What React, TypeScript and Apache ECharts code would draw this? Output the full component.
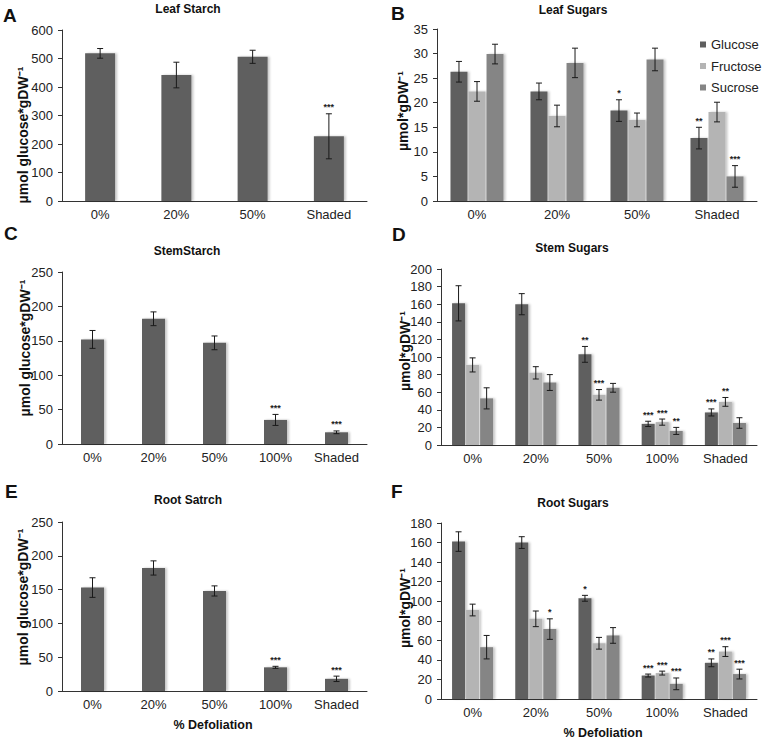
import React, { useEffect, useRef } from 'react';
import * as echarts from 'echarts';

const FONT = '"Liberation Sans", Arial, Helvetica, sans-serif';

// categories
const cats4 = ['0%', '20%', '50%', 'Shaded'];
const cats5 = ['0%', '20%', '50%', '100%', 'Shaded'];
const sugarNames = ['Glucose', 'Fructose', 'Sucrose'];
const sugarColors = ['#5f5f5f', '#b4b4b4', '#858585'];

// A: Leaf Starch
const leafStarch = [518, 442, 506, 227];
const leafStarchErr = [17, 45, 23, 79];
const leafStarchSig = ['', '', '', '***'];

// B: Leaf Sugars
const leafGlucose = [26.3, 22.3, 18.4, 12.8];
const leafGlucoseErr = [2.1, 1.7, 2.2, 2.2];
const leafGlucoseSig = ['', '', '*', '**'];
const leafFructose = [22.3, 17.3, 16.5, 18.1];
const leafFructoseErr = [2.0, 2.2, 1.4, 2.0];
const leafFructoseSig = ['', '', '', ''];
const leafSucrose = [29.9, 28.1, 28.8, 5.0];
const leafSucroseErr = [2.0, 3.0, 2.3, 2.2];
const leafSucroseSig = ['', '', '', '***'];

// C: Stem Starch
const stemStarch = [152, 182, 147, 35, 17];
const stemStarchErr = [13, 10, 10, 8, 2];
const stemStarchSig = ['', '', '', '***', '***'];

// D: Stem Sugars
const stemGlucose = [161, 160, 103, 24, 37];
const stemGlucoseErr = [20, 12, 9, 3, 4];
const stemGlucoseSig = ['', '', '**', '***', '***'];
const stemFructose = [91, 82, 57, 26, 49];
const stemFructoseErr = [8, 7, 6, 3.5, 5];
const stemFructoseSig = ['', '', '***', '***', '**'];
const stemSucrose = [53, 71, 65, 16, 25];
const stemSucroseErr = [12, 9, 5, 4, 6];
const stemSucroseSig = ['', '', '', '**', ''];

// E: Root Starch
const rootStarch = [153, 182, 148, 35, 18];
const rootStarchErr = [14.5, 10.5, 7.5, 1.5, 4];
const rootStarchSig = ['', '', '', '***', '***'];

// F: Root Sugars
const rootGlucose = [161, 160, 103, 24, 37];
const rootGlucoseErr = [10, 6, 3, 1.5, 4];
const rootGlucoseSig = ['', '', '*', '***', '**'];
const rootFructose = [91, 82, 57, 26.5, 48.5];
const rootFructoseErr = [6, 8, 6, 2, 5];
const rootFructoseSig = ['', '', '', '***', '***'];
const rootSucrose = [53, 71.5, 65, 15.5, 25.5];
const rootSucroseErr = [12, 10.5, 8, 6, 5];
const rootSucroseSig = ['', '*', '', '***', '***'];

// y axis settings
const yMax = [600, 35, 250, 200, 250, 180];
const yStep = [100, 5, 50, 20, 50, 20];

const grids = [
  { left: 62, top: 30, width: 305, height: 171 },
  { left: 437, top: 29, width: 320, height: 172 },
  { left: 62, top: 272, width: 305, height: 172 },
  { left: 441, top: 269, width: 316, height: 176 },
  { left: 62, top: 522, width: 305, height: 169 },
  { left: 441, top: 523, width: 316, height: 176 },
];

function xAx(gi: number, data: string[]) {
  return {
    type: 'category',
    gridIndex: gi,
    data,
    axisLine: { lineStyle: { color: '#333', width: 1 } },
    axisTick: { length: 4, lineStyle: { color: '#333' } },
    axisLabel: { fontSize: 13, color: '#222', margin: 7, fontFamily: FONT, interval: 0 },
  };
}

function yAx(gi: number) {
  return {
    type: 'value',
    gridIndex: gi,
    min: 0,
    max: yMax[gi],
    interval: yStep[gi],
    axisLine: { show: true, lineStyle: { color: '#333', width: 1 } },
    axisTick: { show: true, length: 4, lineStyle: { color: '#333' } },
    splitLine: { show: false },
    axisLabel: { fontSize: 13, color: '#222', margin: 9, fontFamily: FONT },
  };
}

function bars(name: string, vals: number[], color: string, gi: number, width: number, gap: string) {
  return {
    type: 'bar',
    name,
    xAxisIndex: gi,
    yAxisIndex: gi,
    data: vals,
    barWidth: width,
    barGap: gap,
    z: 2,
    itemStyle: {
      color,
      shadowColor: 'rgba(0,0,0,0.22)',
      shadowBlur: 2,
      shadowOffsetX: 2,
      shadowOffsetY: 0,
    },
  };
}

function errs(vals: number[], err: number[], sig: string[], gi: number, offset: number) {
  return {
    type: 'custom',
    xAxisIndex: gi,
    yAxisIndex: gi,
    silent: true,
    z: 5,
    data: vals.map((v, i) => [i, v, err[i]]),
    renderItem: (params: any, api: any) => {
      const x = api.value(0);
      const v = api.value(1);
      const e = api.value(2);
      const top = api.coord([x, v + e]);
      const bot = api.coord([x, v - e]);
      const cx = top[0] + offset;
      const cap = 3;
      const ls = { stroke: '#1a1a1a', lineWidth: 1 };
      const children: any[] = [
        { type: 'line', shape: { x1: cx, y1: top[1], x2: cx, y2: bot[1] }, style: ls },
        { type: 'line', shape: { x1: cx - cap, y1: top[1], x2: cx + cap, y2: top[1] }, style: ls },
        { type: 'line', shape: { x1: cx - cap, y1: bot[1], x2: cx + cap, y2: bot[1] }, style: ls },
      ];
      const s = sig[params.dataIndex];
      if (s) {
        children.push({
          type: 'text',
          style: {
            text: s,
            x: cx,
            y: top[1] - 2,
            align: 'center',
            verticalAlign: 'bottom',
            textAlign: 'center',
            textVerticalAlign: 'bottom',
            font: `bold 9px ${FONT}`,
            fill: '#222',
          },
        });
      }
      return { type: 'group', children };
    },
  };
}

function group3(
  gi: number,
  vals: number[][],
  errsArr: number[][],
  sigs: string[][],
  width: number,
  gapFrac: number
) {
  const out: any[] = [];
  for (let k = 0; k < 3; k++) {
    out.push(bars(sugarNames[k], vals[k], sugarColors[k], gi, width, `${gapFrac * 100}%`));
  }
  for (let k = 0; k < 3; k++) {
    out.push(errs(vals[k], errsArr[k], sigs[k], gi, (k - 1) * width * (1 + gapFrac)));
  }
  return out;
}

function txt(text: string, x: number, y: number, font: string, rotate = 0, align = 'center') {
  return {
    type: 'text',
    x,
    y,
    rotation: rotate,
    silent: true,
    style: {
      text,
      font,
      fill: '#111',
      align,
      verticalAlign: 'middle',
      textAlign: align,
      textVerticalAlign: 'middle',
    },
  };
}

const letterFont = `bold 19px ${FONT}`;
const titleFont = `bold 12px ${FONT}`;
const nameFont = `bold 14px ${FONT}`;
const xNameFont = `bold 12.5px ${FONT}`;
const yNameStarch = 'µmol glucose*gDW⁻¹';
const yNameSugar = 'µmol*gDW⁻¹';

const option: any = {
  animation: false,
  backgroundColor: '#fff',
  textStyle: { fontFamily: FONT },
  grid: grids,
  xAxis: [xAx(0, cats4), xAx(1, cats4), xAx(2, cats5), xAx(3, cats5), xAx(4, cats5), xAx(5, cats5)],
  yAxis: [yAx(0), yAx(1), yAx(2), yAx(3), yAx(4), yAx(5)],
  legend: {
    data: sugarNames,
    orient: 'vertical',
    left: 700,
    top: 38,
    padding: 0,
    itemWidth: 6,
    itemHeight: 6,
    itemGap: 8.5,
    icon: 'rect',
    selectedMode: false,
    textStyle: { fontSize: 13, color: '#222', fontFamily: FONT },
  },
  series: [
    bars('Leaf Starch', leafStarch, '#5f5f5f', 0, 30, '0%'),
    errs(leafStarch, leafStarchErr, leafStarchSig, 0, 0),
    ...group3(
      1,
      [leafGlucose, leafFructose, leafSucrose],
      [leafGlucoseErr, leafFructoseErr, leafSucroseErr],
      [leafGlucoseSig, leafFructoseSig, leafSucroseSig],
      17,
      0.06
    ),
    bars('Stem Starch', stemStarch, '#5f5f5f', 2, 23, '0%'),
    errs(stemStarch, stemStarchErr, stemStarchSig, 2, 0),
    ...group3(
      3,
      [stemGlucose, stemFructose, stemSucrose],
      [stemGlucoseErr, stemFructoseErr, stemSucroseErr],
      [stemGlucoseSig, stemFructoseSig, stemSucroseSig],
      13,
      0.08
    ),
    bars('Root Starch', rootStarch, '#5f5f5f', 4, 23, '0%'),
    errs(rootStarch, rootStarchErr, rootStarchSig, 4, 0),
    ...group3(
      5,
      [rootGlucose, rootFructose, rootSucrose],
      [rootGlucoseErr, rootFructoseErr, rootSucroseErr],
      [rootGlucoseSig, rootFructoseSig, rootSucroseSig],
      13,
      0.08
    ),
  ],
  graphic: [
    txt('A', 3, 15, letterFont, 0, 'left'),
    txt('B', 391, 13, letterFont, 0, 'left'),
    txt('C', 4, 233, letterFont, 0, 'left'),
    txt('D', 392, 234, letterFont, 0, 'left'),
    txt('E', 5, 491, letterFont, 0, 'left'),
    txt('F', 391, 491, letterFont, 0, 'left'),
    txt('Leaf Starch', 188, 9, titleFont),
    txt('Leaf Sugars', 573, 10, titleFont),
    txt('StemStarch', 187, 251, titleFont),
    txt('Stem Sugars', 572, 248, titleFont),
    txt('Root Satrch', 188, 500, titleFont),
    txt('Root Sugars', 573, 503, titleFont),
    txt(yNameStarch, 23, 135, nameFont, Math.PI / 2),
    txt(yNameSugar, 403, 111, nameFont, Math.PI / 2),
    txt(yNameStarch, 25, 348, nameFont, Math.PI / 2),
    txt(yNameSugar, 405, 351, nameFont, Math.PI / 2),
    txt(yNameStarch, 23, 597, nameFont, Math.PI / 2),
    txt(yNameSugar, 405, 608, nameFont, Math.PI / 2),
    txt('% Defoliation', 213, 725, xNameFont),
    txt('% Defoliation', 603, 733, xNameFont),
  ],
};

export default function App() {
  const ref = useRef<HTMLDivElement>(null);
  useEffect(() => {
    if (!ref.current) return;
    const chart = echarts.init(ref.current, null, { renderer: 'svg' });
    chart.setOption(option);
    return () => {
      chart.dispose();
    };
  }, []);
  return (
    <div
      ref={ref}
      style={{ position: 'fixed', left: 0, top: 0, width: 764, height: 742, background: '#fff' }}
    />
  );
}
